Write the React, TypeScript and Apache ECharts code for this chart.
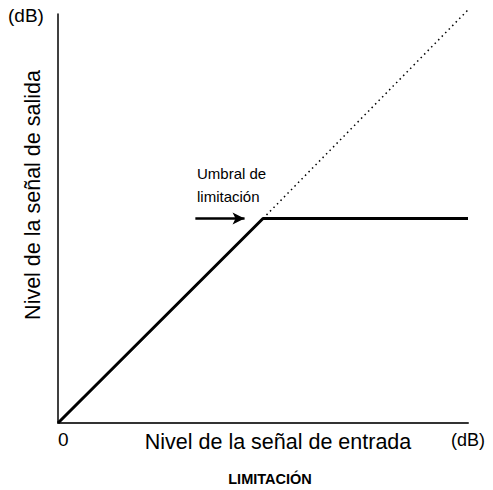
import React, { useEffect, useRef } from "react";
import * as echarts from "echarts";

const solidLine: [number, number][] = [[0, 0], [50, 50], [100, 50]];
const dottedLine: [number, number][] = [[50, 50], [100, 101]];
const arrowFrom: [number, number] = [33.5, 50];
const arrowTo: [number, number] = [45.5, 50];
const xAxisName = "Nivel de la señal de entrada";
const yAxisName = "Nivel de la señal de salida";
const unitLabel = "(dB)";
const originLabel = "0";
const thresholdLabel = "Umbral de\nlimitación";
const caption = "LIMITACIÓN";

const FONT = "Liberation Sans, Arial, sans-serif";

export default function App() {
  const ref = useRef<HTMLDivElement>(null);
  useEffect(() => {
    if (!ref.current) return;
    const chart = echarts.init(ref.current, null, { renderer: "svg" });
    chart.setOption({
      animation: false,
      backgroundColor: "#ffffff",
      grid: { left: 58, right: 25, top: 14, bottom: 67 },
      xAxis: {
        type: "value",
        min: 0,
        max: 100,
        axisLine: { show: true, onZero: false, lineStyle: { color: "#333", width: 2 } },
        axisTick: { show: false },
        axisLabel: { show: false },
        splitLine: { show: false },
      },
      yAxis: {
        type: "value",
        min: 0,
        max: 100,
        axisLine: { show: true, onZero: false, lineStyle: { color: "#000", width: 1.5 } },
        axisTick: { show: false },
        axisLabel: { show: false },
        splitLine: { show: false },
      },
      series: [
        {
          type: "line",
          data: solidLine,
          symbol: "none",
          lineStyle: { color: "#000", width: 3 },
          z: 3,
          markLine: {
            silent: true,
            symbol: ["none", "arrow"],
            symbolSize: [9, 12],
            label: { show: false },
            lineStyle: { color: "#000", width: 2.5, type: "solid" },
            data: [[{ coord: arrowFrom }, { coord: arrowTo }]],
          },
        },
        {
          type: "line",
          data: dottedLine,
          symbol: "none",
          clip: false,
          lineStyle: { color: "#000", width: 1.5, type: [1.5, 3.5] },
          z: 2,
        },
      ],
      graphic: [
        { type: "text", left: 8, top: 6, style: { text: unitLabel, font: `19px ${FONT}`, fill: "#000" } },
        { type: "text", left: 451, top: 431, style: { text: unitLabel, font: `18px ${FONT}`, fill: "#000" } },
        { type: "text", left: 58, top: 430, style: { text: originLabel, font: `19px ${FONT}`, fill: "#000" } },
        {
          type: "text",
          x: 278,
          y: 442,
          style: { text: xAxisName, font: `21.5px ${FONT}`, fill: "#000", align: "center", verticalAlign: "middle" },
        },
        {
          type: "text",
          x: 33,
          y: 195,
          rotation: Math.PI / 2,
          style: { text: yAxisName, font: `21.5px ${FONT}`, fill: "#000", align: "center", verticalAlign: "middle" },
        },
        {
          type: "text",
          x: 270,
          y: 479,
          style: { text: caption, font: `bold 14.5px ${FONT}`, fill: "#000", align: "center", verticalAlign: "middle" },
        },
        {
          type: "text",
          left: 197,
          top: 162,
          style: { text: thresholdLabel, font: `15px ${FONT}`, lineHeight: 23, fill: "#000" },
        },
      ],
    });
    return () => chart.dispose();
  }, []);
  return <div ref={ref} style={{ width: 493, height: 490, marginLeft: -8, marginTop: -8 }} />;
}
